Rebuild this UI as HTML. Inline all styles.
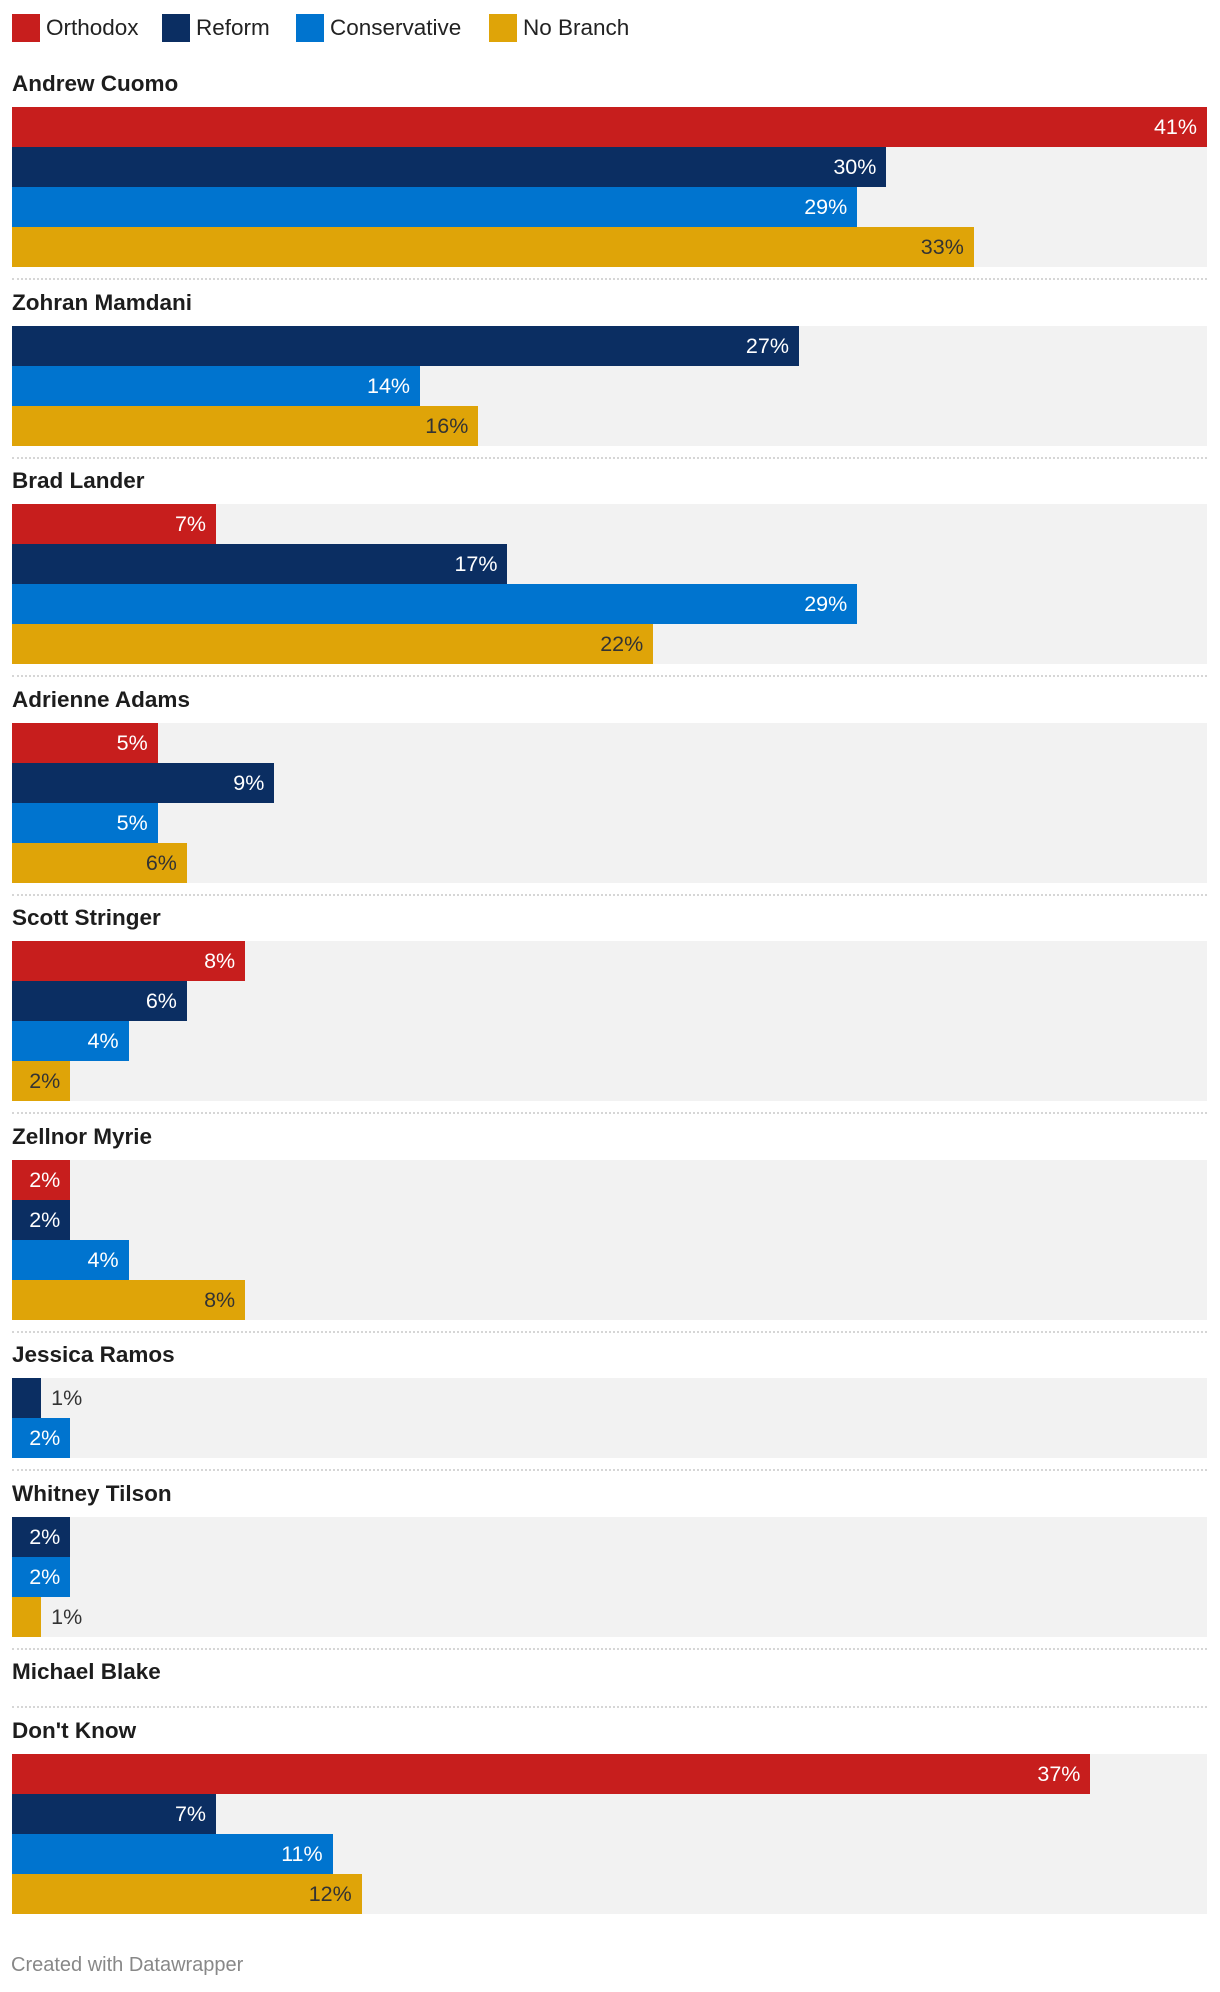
<!DOCTYPE html>
<html><head><meta charset="utf-8">
<style>
body{margin:0;background:#fff;width:1220px;height:1992px;overflow:hidden;font-family:"Liberation Sans",Arial,sans-serif;position:relative}
.abs{position:absolute}
.leg{position:absolute;top:14px;height:28px;display:flex;align-items:center;font-size:22.5px;color:#222}
.sw{width:28px;height:28px;margin-right:6px}
.title{position:absolute;left:12px;font-weight:bold;font-size:22.5px;color:#1d1d1d;line-height:28px}
.bg{position:absolute;left:12px;width:1195px;background:#f2f2f2}
.bar{position:absolute;left:12px;height:40px}
.lbl{position:absolute;font-size:21.5px;line-height:40px;height:40px}
.sep{position:absolute;left:12px;width:1195px;height:0;border-top:2px dotted #d6d6d6}
</style></head>
<body>
<div class="leg" style="left:12px"><div class="sw" style="background:#c71e1d"></div>Orthodox</div>
<div class="leg" style="left:162px"><div class="sw" style="background:#0b2e62"></div>Reform</div>
<div class="leg" style="left:296px"><div class="sw" style="background:#0074cf"></div>Conservative</div>
<div class="leg" style="left:489px"><div class="sw" style="background:#dfa408"></div>No Branch</div>
<div id="chart"></div>
<div class="abs" style="left:11px;top:1954px;font-size:20px;color:#888">Created with Datawrapper</div>
<script>
const candidates=["Andrew Cuomo","Zohran Mamdani","Brad Lander","Adrienne Adams","Scott Stringer","Zellnor Myrie","Jessica Ramos","Whitney Tilson","Michael Blake","Don't Know"];
const orthodox=[41,null,7,5,8,2,null,null,null,37];
const reform=[30,27,17,9,6,2,1,2,null,7];
const conservative=[29,14,29,5,4,4,2,2,null,11];
const noBranch=[33,16,22,6,2,8,null,1,null,12];
const seriesNames=["orthodox","reform","conservative","no-branch"];
const colors=["#c71e1d","#0b2e62","#0074cf","#dfa408"];
const textColors=["#fff","#fff","#fff","#333"];
const series=[orthodox,reform,conservative,noBranch];
const maxVal=41, left=12, fullW=1195;
function xw(v){return v/maxVal*fullW;}
const chart=document.getElementById('chart');
let y=107;
candidates.forEach((c,i)=>{
  const t=document.createElement('div');t.className='title';t.textContent=c;t.style.top=(y-37)+'px';
  
  
  chart.appendChild(t);
  const vals=series.map(s=>s[i]);
  const n=vals.filter(v=>v!==null).length;
  if(n>0){
    const bg=document.createElement('div');bg.className='bg';bg.style.top=y+'px';bg.style.height=(n*40)+'px';
    
    
    chart.appendChild(bg);
  }
  let k=0;
  vals.forEach((v,s)=>{
    if(v===null)return;
    const by=y+k*40;k++;
    const w=xw(v);
    const b=document.createElement('div');b.className='bar';b.style.top=by+'px';b.style.width=w+'px';b.style.background=colors[s];
    
    
    chart.appendChild(b);
    const l=document.createElement('div');l.className='lbl';l.textContent=v+'%';l.style.top=by+'px';
    
    
    if(w<50){l.style.left=(left+w+10)+'px';l.style.color='#333';}
    else{l.style.right=(1220-(left+w)+10)+'px';l.style.color=textColors[s];}
    chart.appendChild(l);
  });
  y+=n*40;
  if(i<candidates.length-1){
    const sp=document.createElement('div');sp.className='sep';sp.style.top=(y+11)+'px';
    
    
    chart.appendChild(sp);
    y+=58.5;
  }
});
</script>
</body></html>
